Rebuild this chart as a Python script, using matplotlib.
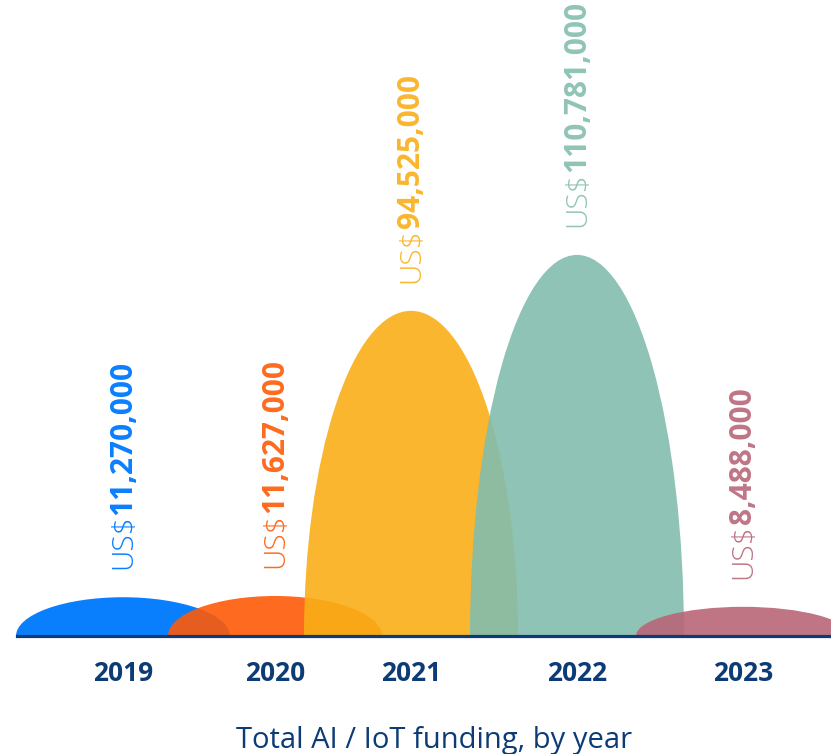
import matplotlib
matplotlib.use('Agg')
import matplotlib.pyplot as plt
from matplotlib.patches import Ellipse

# datos
years = ['2019', '2020', '2021', '2022', '2023']
funding = [11270000, 11627000, 94525000, 110781000, 8488000]

# colores: texto y relleno (el relleno va con alpha)
text_colors = ['#0a7ffe', '#fe6b1f', '#fab62e', '#8fc4b6', '#bf7585']
fill_colors = ['#0a7ffe', '#fe5a06', '#f9ae17', '#83bdae', '#b86677']
navy = '#0d3b76'
font = 'Open Sans'

centers = [123, 275, 411, 577, 743]     # posicion x de cada año (px)
ancho = 214                             # ancho de cada elipse (px)
escala = 3.44                           # px por millon

fig = plt.figure(figsize=(8.31, 7.54), dpi=100)
ax = fig.add_axes([0, 118 / 754, 1, 636 / 754])
ax.set_xlim(0, 831)
ax.set_ylim(0, 636 / escala)

for i, (x, v) in enumerate(zip(centers, funding)):
    m = v / 1e6
    ax.add_patch(Ellipse((x, 0), ancho, 2 * m, facecolor=fill_colors[i],
                         alpha=1 if i == 0 else 0.9, lw=0, zorder=2 + i))
    t1 = ax.annotate('US$', xy=(x, m), xytext=(0, 20), textcoords='offset points',
                     rotation=90, ha='center', va='bottom', fontsize=21.5,
                     color=text_colors[i], family=font, fontweight='light')
    ax.annotate(f'{v:,}', xy=(0.5, 1), xycoords=t1, rotation=90,
                ha='center', va='bottom', fontsize=21.5, fontweight='bold',
                color=text_colors[i], family=font)

ax.axhline(0, xmin=17 / 831, xmax=1, color=navy, lw=2.3, clip_on=False, zorder=10)

ax.set_xticks(centers, years)
ax.set_yticks([])
ax.tick_params(axis='x', length=0, pad=17, labelsize=19, labelcolor=navy)
for lab in ax.get_xticklabels():
    lab.set_fontweight('bold')
    lab.set_family(font)
for s in ax.spines.values():
    s.set_visible(False)

fig.text(434 / 831, 6 / 754, 'Total AI / IoT funding, by year', ha='center',
         va='baseline', fontsize=21, color=navy, family=font)

fig.savefig('out.png', dpi=100)
